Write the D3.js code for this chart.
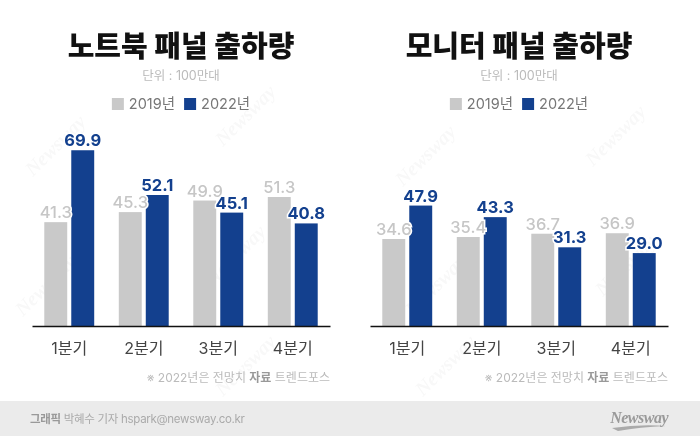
<!DOCTYPE html>
<html>
<head>
<meta charset="utf-8">
<script src="https://cdn.jsdelivr.net/npm/d3@7"></script>
<style>
  html, body { margin: 0; padding: 0; background: #fff; }
  svg { display: block; font-family: Inter, "Noto Sans CJK KR", sans-serif; }
</style>
</head>
<body>
<svg id="chart" width="700" height="436"></svg>
<script>
var quarters = ['1분기', '2분기', '3분기', '4분기'];
var years = ['2019년', '2022년'];

var notebook2019 = [41.3, 45.3, 49.9, 51.3];
var notebook2022 = [69.9, 52.1, 45.1, 40.8];
var monitor2019 = [34.6, 35.4, 36.7, 36.9];
var monitor2022 = [47.9, 43.3, 31.3, 29.0];

var titles = ['노트북 패널 출하량', '모니터 패널 출하량'];
var unitLabel = '단위 : 100만대';

var colors = { '2019년': '#c9c9c9', '2022년': '#13408e' };
var labelColors = { '2019년': '#c6c6c6', '2022년': '#13408e' };

var svg = d3.select('#chart');

// faint watermark
var wm = svg.append('g').attr('fill', '#000').attr('opacity', 0.03)
  .style('font-family', '"Liberation Serif", serif')
  .style('font-style', 'italic').style('font-weight', 'bold').style('font-size', '20px');
[[60, 150], [250, 120], [430, 160], [620, 140],
 [50, 290], [240, 260], [440, 290], [630, 270], [250, 370], [450, 370]].forEach(function(p) {
  wm.append('text').attr('transform', 'translate(' + p[0] + ',' + p[1] + ') rotate(-45)')
    .attr('text-anchor', 'middle').text('Newsway');
});

var baseline = 326;
var y = d3.scaleLinear().domain([0, 70]).range([baseline, baseline - 176]);

function drawPanel(left, right, title, s2019, s2022) {
  var g = svg.append('g');
  var cx = (left + right) / 2;

  var x0 = d3.scaleBand().domain(quarters).range([left, right])
    .paddingInner(0.33).paddingOuter(0.165);
  var x1 = d3.scaleBand().domain(years).range([0, x0.bandwidth()]).paddingInner(0.15);

  g.append('text').attr('x', cx).attr('y', 57).attr('text-anchor', 'middle')
    .style('font-family', '"Noto Sans CJK KR", sans-serif')
    .style('font-size', '29px').style('font-weight', 900).attr('fill', '#111')
    .text(title);

  g.append('text').attr('x', cx).attr('y', 80).attr('text-anchor', 'middle')
    .style('font-size', '12.5px').attr('fill', '#bbb').text(unitLabel);

  // legend
  var leg = g.append('g');
  var items = leg.selectAll('g').data(years).enter().append('g');
  items.append('rect').attr('width', 12).attr('height', 12).attr('y', 98)
    .attr('fill', function(d) { return colors[d]; });
  items.append('text').attr('x', 17).attr('y', 109)
    .style('font-size', '14.5px').attr('fill', '#777').text(function(d) { return d; });
  var off = 0;
  items.each(function() {
    d3.select(this).attr('transform', 'translate(' + off + ',0)');
    off += this.getBBox().width + 9;
  });
  off -= 9;
  leg.attr('transform', 'translate(' + (cx - off / 2) + ',0)');

  var rows = quarters.map(function(q, i) {
    return [{ q: q, year: '2019년', v: s2019[i] }, { q: q, year: '2022년', v: s2022[i] }];
  });

  var groups = g.selectAll('.grp').data(rows).enter().append('g')
    .attr('transform', function(d, i) { return 'translate(' + x0(quarters[i]) + ',0)'; });

  groups.selectAll('rect').data(function(d) { return d; }).enter().append('rect')
    .attr('x', function(d) { return x1(d.year); })
    .attr('width', x1.bandwidth())
    .attr('y', function(d) { return y(d.v); })
    .attr('height', function(d) { return baseline - y(d.v); })
    .attr('fill', function(d) { return colors[d.year]; });

  groups.selectAll('text').data(function(d) { return d; }).enter().append('text')
    .attr('x', function(d) { return x1(d.year) + x1.bandwidth() / 2; })
    .attr('y', function(d) { return y(d.v) - 4; })
    .attr('text-anchor', 'middle')
    .style('font-size', '16.5px')
    .style('font-weight', function(d) { return d.year === '2022년' ? 700 : 500; })
    .attr('fill', function(d) { return labelColors[d.year]; })
    .attr('stroke', '#fff').attr('stroke-width', 3).attr('paint-order', 'stroke')
    .text(function(d) { return d.v.toFixed(1); });

  // axis
  var axis = g.append('g').attr('transform', 'translate(0,' + baseline + ')')
    .call(d3.axisBottom(x0).tickSize(0).tickPadding(17));
  axis.select('.domain').attr('stroke', '#111').attr('stroke-width', 1.5);
  axis.selectAll('text').style('font-family', 'Inter, "Noto Sans CJK KR", sans-serif')
    .style('font-size', '16px').attr('fill', '#444');

  // footnote
  var fn = g.append('text').attr('x', right).attr('y', 382).attr('text-anchor', 'end')
    .style('font-size', '12px').attr('fill', '#bbb');
  fn.append('tspan').text('※ 2022년은 전망치  ');
  fn.append('tspan').attr('fill', '#999').style('font-weight', 700).text('자료');
  fn.append('tspan').text(' 트렌드포스');
}

drawPanel(32, 330, titles[0], notebook2019, notebook2022);
drawPanel(370, 668, titles[1], monitor2019, monitor2022);

// footer
svg.append('rect').attr('x', 0).attr('y', 401).attr('width', 700).attr('height', 35).attr('fill', '#ebebeb');
var ft = svg.append('text').attr('x', 30).attr('y', 423).style('font-size', '11.5px')
  .style('letter-spacing', '-0.3px').attr('fill', '#aaa');
ft.append('tspan').attr('fill', '#999').style('font-weight', 700).text('그래픽');
ft.append('tspan').text(' 박혜수 기자 hspark@newsway.co.kr');

svg.append('text').attr('x', 668).attr('y', 423).attr('text-anchor', 'end')
  .style('font-family', '"Liberation Serif", serif').style('font-style', 'italic')
  .style('font-weight', 'bold').style('font-size', '16px').attr('fill', '#9a9a9a')
  .style('letter-spacing', '-0.5px').text('Newsway');
svg.append('path').attr('d', 'M612,428 Q640,424 666,426 Q640,427 618,431 Z').attr('fill', '#aaa');
</script>
</body>
</html>
